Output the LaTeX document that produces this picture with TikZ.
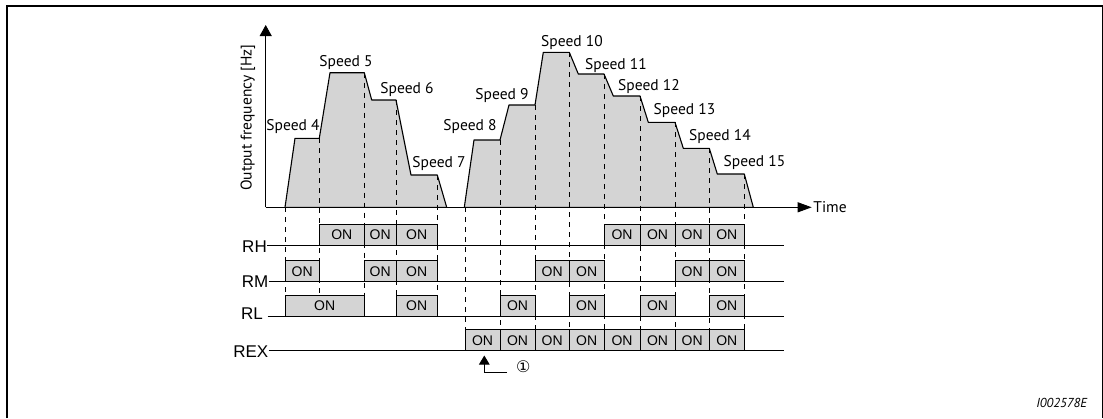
\documentclass[tikz,border=0pt]{standalone}
\usepackage{fontspec}
\setmainfont{Liberation Sans}
\newfontfamily\myriad{PT Sans}
\newfontfamily\symfont{DejaVu Sans}
\usepackage{tikz}
\usetikzlibrary{arrows.meta}
\definecolor{onfill}{RGB}{212,212,212}

\begin{document}
\begin{tikzpicture}[x=1pt, y=-1pt,
        speed/.style={font=\myriad\fontsize{15.5}{16}\selectfont, inner sep=0pt},
        sig/.style={font=\fontsize{17}{17}\selectfont, inner sep=0pt, anchor=east},
        onbox/.style={draw, fill=onfill, line width=0.9pt, minimum width={#1}, minimum height=21pt,
            inner sep=0pt, outer sep=0pt, anchor=south west, font=\fontsize{14}{14}\selectfont},
        grid/.style={dash pattern=on 5pt off 5pt, line width=0.8pt},
        sigline/.style={line width=0.9pt},
    ]
    \useasboundingbox (0,0) rectangle (1103,418);
    % frame
    \draw[line width=1.8pt] (7,418) -- (7,6) -- (1103,6);
    \draw[line width=1pt] (1102.3,6) -- (1102.3,418);

    % frequency profile
    \draw[fill=onfill, line width=1.1pt, line join=round]
        (285,207.3) -- (295,138.3) -- (319.3,138.3) -- (330,72.7) -- (364.3,72.7)
        -- (371.7,100) -- (396,100) -- (411,175) -- (437.3,175) -- (446.7,207.3) -- cycle;
    \draw[fill=onfill, line width=1.1pt, line join=round]
        (464.3,207.3) -- (474,140) -- (500,140) -- (509,105) -- (535,105) -- (543.3,52.3)
        -- (569.3,52.3) -- (578.3,74) -- (604,74) -- (613.3,96) -- (640,96) -- (648.3,122.3)
        -- (675,122.3) -- (683.3,148.3) -- (709.3,148.3) -- (717.3,174) -- (744.3,174)
        -- (753.3,207.3) -- cycle;

    % time marks
    \foreach \x/\y in {285/207.3, 319.3/138.3, 364.3/72.7, 396/100, 437.3/175}
        \draw[grid] (\x,\y) -- (\x,295);
    \foreach \x/\y in {465/207.3, 500/140, 535/105, 569.3/52.3, 604/74, 640/96,
                       675/122.3, 709.3/148.3, 744.3/174}
        \draw[grid] (\x,\y) -- (\x,330);

    % axes
    \coordinate (origin) at (265.7,207.3);
    \coordinate (ytip) at (265.7,25);
    \coordinate (xtip) at (811.7,207.3);
    \draw[line width=0.9pt, -{Triangle[length=11pt, width=12pt]}] (origin) -- (ytip);
    \draw[line width=0.9pt, -{Triangle[length=14pt, width=10pt]}] (origin) -- (xtip);
    \node[speed, anchor=west] (time) at ([xshift=1.5pt]xtip) {Time};
    \node[speed, rotate=90] (yaxis) at (248,117.5) {Output frequency [Hz]};

    % speed labels
    \node[speed] (s4)  at (293,127)   {Speed 4};
    \node[speed] (s5)  at (346,63)    {Speed 5};
    \node[speed] (s6)  at (407,90)    {Speed 6};
    \node[speed] (s7)  at (439,164)   {Speed 7};
    \node[speed] (s8)  at (470,127)   {Speed 8};
    \node[speed] (s9)  at (502,96)    {Speed 9};
    \node[speed] (s10) at (572,43)    {Speed 10};
    \node[speed] (s11) at (616,66)    {Speed 11};
    \node[speed] (s12) at (649,87)    {Speed 12};
    \node[speed] (s13) at (684.5,111) {Speed 13};
    \node[speed] (s14) at (720,137)   {Speed 14};
    \node[speed] (s15) at (754.5,162.5) {Speed 15};

    % ON states
    \foreach \a/\b [count=\i] in {319.3/364.3, 364.3/396, 396/437.3,
                                  604/640, 640/675, 675/709.3, 709.3/744.3}
        \node[onbox={\b pt-\a pt}] (rh\i) at (\a,245) {ON};
    \foreach \a/\b [count=\i] in {285/319.3, 364.3/396, 396/437.3, 535/569.3,
                                  569.3/604, 675/709.3, 709.3/744.3}
        \node[onbox={\b pt-\a pt}] (rm\i) at (\a,281.7) {ON};
    \foreach \a/\b [count=\i] in {285/364.3, 396/437.3, 500/535, 569.3/604,
                                  640/675, 709.3/744.3}
        \node[onbox={\b pt-\a pt}] (rl\i) at (\a,316) {ON};
    \foreach \a/\b [count=\i] in {465/500, 500/535, 535/569.3, 569.3/604,
                                  604/640, 640/675, 675/709.3, 709.3/744.3}
        \node[onbox={\b pt-\a pt}] (rex\i) at (\a,350.7) {ON};
    \draw[grid] (396,224.3) -- (396,245);

    % signals
    \node[sig] (rh)  at (267,246.5)   {RH};
    \node[sig] (rm)  at (268.5,281.5) {RM};
    \node[sig] (rl)  at (263,314)     {RL};
    \node[sig] (rex) at (268.5,351.5) {REX};
    \coordinate (rhEnd)  at (784,245);
    \coordinate (rmEnd)  at (784,281.7);
    \coordinate (rlEnd)  at (784,316);
    \coordinate (rexEnd) at (784,350.7);
    \draw[sigline] (rh.east |- rhEnd) -- (rhEnd);
    \draw[sigline] (rm.east |- rmEnd) -- (rmEnd);
    \draw[sigline] ([xshift=4.7pt]rl.east |- rlEnd) -- (rlEnd);
    \draw[sigline] (rex.east |- rexEnd) -- (rexEnd);

    % note 1
    \node[font=\symfont\fontsize{16}{16}\selectfont, inner sep=0pt] (mark) at (523.3,366.5) {①};
    \coordinate (noteEnd) at (507,372);
    \coordinate (noteTip) at (484.3,355.5);
    \draw[line width=0.9pt, -{Triangle[length=9pt, width=10.5pt]}] (noteEnd) -| (noteTip);

    \node[font=\myriad\itshape\fontsize{13}{13}\selectfont, inner sep=0pt, anchor=east] (code) at (1087.3,403) {I002578E};
\end{tikzpicture}
\end{document}
